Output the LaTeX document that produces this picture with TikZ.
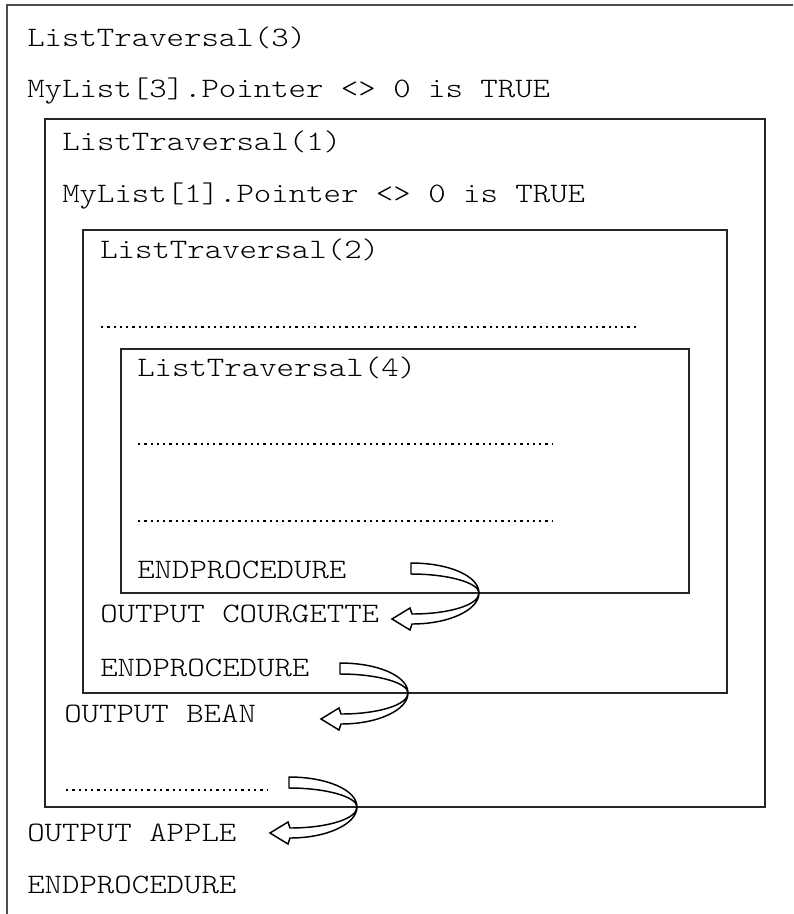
\documentclass[tikz,border=0pt]{standalone}
\usepackage{fontspec}
\setmonofont[FakeStretch=1.18]{Latin Modern Mono Light}
\begin{document}
\begin{tikzpicture}[x=0.75pt,y=-0.75pt,
  code/.style={anchor=base west,inner sep=0pt,font=\ttfamily\fontsize{21.1}{26}\selectfont},
  frame/.style={draw=black!85,line width=1.5pt},
  dotline/.style={line width=1.9pt,dash pattern=on 1.7pt off 3.0pt},
  uturn/.pic={
    \draw[line width=1.1pt,fill=white,line join=miter]
      (-68,-30) .. controls (-30,-30) and (0,-17) .. (0,0)
      .. controls (0,17) and (-30,31) .. (-67,31)
      -- (-69,37) -- (-87,26) -- (-69,15) -- (-67,21)
      .. controls (-30,21) and (0,12) .. (0,0)
      .. controls (0,-10) and (-30,-19) .. (-68,-19) -- cycle;
  }]
\useasboundingbox (0,0) rectangle (793,914);
% outer frame (partial)
\coordinate (oTL) at (7,5);
\coordinate (oTR) at (793,5);
\coordinate (oBL) at (7,914);
\draw[frame,draw=black!70] (oTR) -- (oTL) -- (oBL);
% boxes
\draw[frame] (45,119) rectangle (765,807);
\draw[frame] (83,230) rectangle (727,693);
\draw[frame] (121,349) rectangle (689,593);
% texts
\node[code] (t1) at (27,46) {ListTraversal(3)};
\node[code] (t2) at (27,97) {MyList[3].Pointer <> 0 is TRUE};
\node[code] (t3) at (62,150) {ListTraversal(1)};
\node[code] (t4) at (62,202) {MyList[1].Pointer <> 0 is TRUE};
\node[code] (t5) at (100,258) {ListTraversal(2)};
\node[code] (t6) at (137,376) {ListTraversal(4)};
\node[code] (t7) at (137,578) {ENDPROCEDURE};
\node[code] (t8) at (100,622) {OUTPUT COURGETTE};
\node[code] (t9) at (100,676) {ENDPROCEDURE};
\node[code] (t10) at (64,722) {OUTPUT BEAN};
\node[code] (t11) at (27,841) {OUTPUT APPLE};
\node[code] (t12) at (27,893) {ENDPROCEDURE};
% dotted answer lines
\draw[dotline] (101,327) -- (636,327);
\draw[dotline] (138,444) -- (553,444);
\draw[dotline] (138,521) -- (553,521);
\draw[dotline] (66,790) -- (267,790);
% u-turn arrows
\pic at (479,593) {uturn};
\pic at (408,693) {uturn};
\pic at (357,807) {uturn};
\end{tikzpicture}
\end{document}
